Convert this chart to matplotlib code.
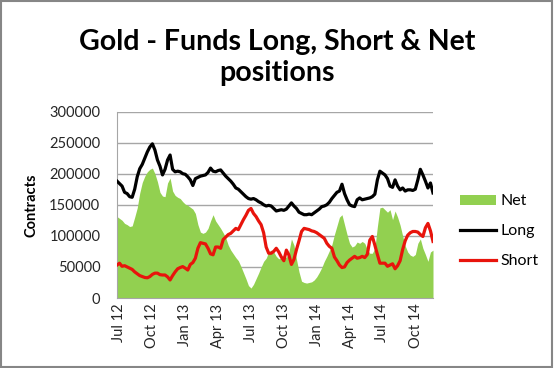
import matplotlib
matplotlib.use("Agg")
import matplotlib.pyplot as plt
from matplotlib.patches import Patch, Rectangle
from matplotlib.lines import Line2D
import pandas as pd

plt.rcParams['font.family'] = ['Lato', 'DejaVu Sans']

start_date = "2012-06-26"

long_pos = [188000, 184000, 180000, 170000, 168000, 163000, 162000, 175000, 195000, 208000,
            215000, 225000, 235000, 243000, 248000, 238000, 222000, 212000, 198000, 207000,
            222000, 230000, 207000, 203000, 204000, 203000, 200000, 199000, 195000, 190000,
            181000, 192000, 194000, 196000, 197000, 198000, 202000, 209000, 204000, 203000,
            205000, 206000, 201000, 196000, 192000, 188000, 183000, 177000, 175000, 171000,
            167000, 163000, 160000, 159000, 160000, 158000, 155000, 153000, 150000, 148000,
            149000, 148000, 144000, 140000, 141000, 142000, 141000, 143000, 148000, 153000,
            148000, 144000, 138000, 136000, 134000, 134000, 135000, 134000, 137000, 140000,
            143000, 147000, 148000, 150000, 154000, 160000, 165000, 170000, 172000, 183000,
            168000, 158000, 150000, 148000, 147000, 158000, 161000, 158000, 159000, 160000,
            161000, 163000, 167000, 190000, 204000, 201000, 198000, 192000, 180000, 178000,
            190000, 180000, 174000, 177000, 172000, 174000, 174000, 173000, 175000, 190000,
            207000, 198000, 188000, 177000, 185000, 169000]

short_pos = [53000, 56000, 51000, 52000, 50000, 48000, 46000, 42000, 39000, 36000,
             34500, 33000, 32500, 34500, 38000, 40000, 40000, 37500, 37000, 37000,
             34000, 29000, 36000, 42000, 47000, 49000, 50500, 48000, 45000, 54000,
             57000, 64000, 80000, 89000, 88000, 87000, 80000, 71000, 69500, 82000,
             82000, 80000, 94000, 98000, 102000, 104000, 108000, 112000, 110000, 118000,
             126000, 133000, 141000, 144000, 136000, 131000, 124000, 118000, 105000, 82000,
             72000, 72000, 75000, 80000, 74000, 66000, 60000, 77000, 69000, 54000,
             62000, 78000, 92000, 107000, 112000, 111000, 110000, 108000, 107000, 105000,
             102000, 99000, 96000, 88000, 83000, 80000, 66000, 60000, 53000, 49000,
             50000, 57000, 61000, 64000, 67000, 64000, 65000, 67000, 65000, 70000,
             93000, 99000, 85000, 70000, 56000, 56000, 56000, 51000, 53000, 55000,
             47000, 52000, 60000, 78000, 92000, 101000, 105000, 107000, 107000, 106000,
             102000, 99000, 113000, 120000, 108000, 91000]

net_pos = [131000, 128000, 125000, 120000, 118000, 115000, 116000, 130000, 145000, 169000,
           186000, 196000, 203000, 207000, 209000, 200000, 187000, 170000, 164000, 163000,
           185000, 193000, 172000, 165000, 162000, 160000, 155000, 151000, 149000, 146000,
           143000, 136000, 118000, 106000, 104000, 106000, 112000, 124000, 134000, 124000,
           118000, 112000, 105000, 97000, 85000, 77000, 71000, 65000, 60000, 51000,
           41000, 31000, 20000, 16000, 22000, 31000, 40000, 50000, 59000, 64000,
           74000, 77000, 74000, 67000, 63000, 65000, 69000, 65000, 74000, 95000,
           85000, 62000, 42000, 27000, 25000, 24000, 25000, 26000, 29000, 34000,
           41000, 49000, 59000, 67000, 76000, 86000, 102000, 116000, 130000, 134000,
           118000, 102000, 88000, 82000, 84000, 90000, 88000, 91000, 88000, 78000,
           72000, 72000, 80000, 115000, 145000, 146000, 142000, 138000, 142000, 126000,
           140000, 130000, 117000, 100000, 84000, 74000, 69000, 67000, 70000, 88000,
           95000, 80000, 70000, 59000, 74000, 77000]

y_ticks = [0, 50000, 100000, 150000, 200000, 250000, 300000]
x_tick_dates = ["2012-07-01", "2012-10-01", "2013-01-01", "2013-04-01", "2013-07-01",
                "2013-10-01", "2014-01-01", "2014-04-01", "2014-07-01", "2014-10-01"]
x_tick_labels = ["Jul 12", "Oct 12", "Jan 13", "Apr 13", "Jul 13",
                 "Oct 13", "Jan 14", "Apr 14", "Jul 14", "Oct 14"]

dates = pd.date_range(start_date, periods=len(long_pos), freq="7D")

fig = plt.figure(figsize=(5.54, 3.68), dpi=100)
fig.patch.set_facecolor("white")
ax = fig.add_axes([117/554, 1-298/368, (433-117)/554, (298-111.5)/368])

green = "#92D050"
ax.fill_between(dates, 0, net_pos, color=green, linewidth=0, zorder=1)
ax.plot(dates, long_pos, color="black", linewidth=2.3, zorder=3)
ax.plot(dates, short_pos, color="#E8140C", linewidth=2.3, zorder=3)

ax.set_ylim(0, 300000)
ax.set_xlim(dates[0], dates[-1])
ax.set_yticks(y_ticks)
ax.set_yticklabels([str(v) for v in y_ticks], fontsize=10.5, color="#262626")
ax.set_xticks(pd.to_datetime(x_tick_dates))
ax.set_xticklabels(x_tick_labels, rotation=90, fontsize=10.5, color="#262626")
ax.tick_params(axis="x", length=0, pad=4)
ax.tick_params(axis="y", length=0, pad=12)
ax.yaxis.grid(True, color="#A6A6A6", linewidth=1.0)
ax.set_axisbelow(True)
for s in ["top", "right"]:
    ax.spines[s].set_visible(False)
ax.spines["left"].set_color("#A6A6A6")
ax.spines["bottom"].set_color("#A6A6A6")
ax.set_ylabel("Contracts", fontsize=10.5, fontweight="bold", labelpad=8)

fig.text(0.5, 1-42/368, "Gold - Funds Long, Short & Net", ha="center", va="center",
         fontsize=20.5, fontweight="bold")
fig.text(0.5, 1-73/368, "positions", ha="center", va="center",
         fontsize=20.5, fontweight="bold")

handles = [Patch(facecolor=green, edgecolor="none"),
           Line2D([0], [0], color="black", linewidth=2.3),
           Line2D([0], [0], color="#E8140C", linewidth=2.3)]
fig.legend(handles, ["Net", "Long", "Short"], loc="upper left",
           bbox_to_anchor=(446/554, 1-180/368), frameon=False, fontsize=11.5,
           handlelength=2.2, handleheight=0.6, labelspacing=1.0, handletextpad=0.3)

fig.add_artist(Rectangle((0.002, 0.003), 0.994, 0.993, transform=fig.transFigure,
                         fill=False, edgecolor="#868686", linewidth=1.5))

fig.savefig("out.png", dpi=100)
